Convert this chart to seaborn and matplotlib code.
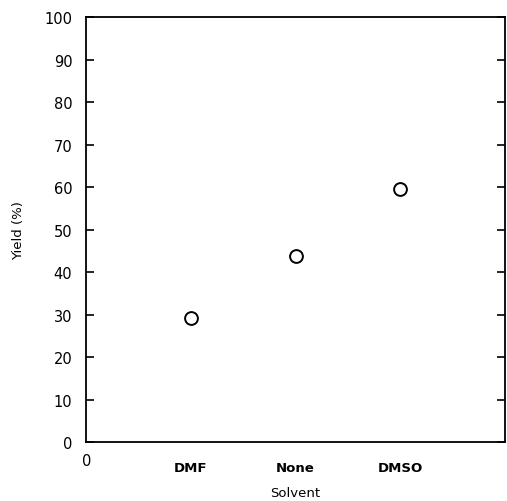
import matplotlib
matplotlib.use("Agg")
import matplotlib.pyplot as plt
import seaborn as sns
import pandas as pd

# Daten
solvents = ["DMF", "None", "DMSO"]
yields = [29.2, 43.8, 59.5]
y_ticks = [0, 10, 20, 30, 40, 50, 60, 70, 80, 90, 100]

df = pd.DataFrame({"Solvent": solvents, "Yield": yields})
df["pos"] = range(1, len(solvents) + 1)

sns.set_style("ticks")
plt.rcParams["font.family"] = ["DejaVu Sans"]
plt.rcParams["text.color"] = "black"
plt.rcParams["axes.labelcolor"] = "black"
plt.rcParams["xtick.color"] = "black"
plt.rcParams["ytick.color"] = "black"
plt.rcParams["axes.edgecolor"] = "black"

fig = plt.figure(figsize=(5.07, 5.02), dpi=100)
ax = fig.add_axes([0.170, 0.1175, 0.826, 0.8465])

sns.scatterplot(data=df, x="pos", y="Yield", ax=ax, marker="o", s=85,
                facecolor="white", edgecolor="black", linewidth=1.4, zorder=3)

ax.set_xlim(0, 4)
ax.set_ylim(0, 100)
ax.set_yticks(y_ticks)
ax.set_yticklabels([str(t) for t in y_ticks], fontsize=10.5)
ax.set_xticks(range(0, len(solvents) + 1))
ax.set_xticklabels(["0"] + solvents, fontsize=9.5)
for lbl in ax.get_xticklabels()[1:]:
    lbl.set_fontweight("bold")
ax.tick_params(axis="y", direction="in", length=6, width=1.2, right=True, pad=10,
               colors="black")
ax.tick_params(axis="x", length=0, pad=14, colors="black")

# "0" unter dem Ursprung etwas höher als die Kategorien
ax.annotate("0", xy=(0, 0), xytext=(0, -8), textcoords="offset points",
            ha="center", va="top", fontsize=10.5)
ax.get_xticklabels()[0].set_visible(False)

for side in ["left", "right", "top", "bottom"]:
    ax.spines[side].set_visible(True)
    ax.spines[side].set_linewidth(1.3)
    ax.spines[side].set_color("black")

ax.set_xlabel("Solvent", fontsize=9.5, labelpad=8)
ax.set_ylabel("Yield (%)", fontsize=9.5, labelpad=14)

fig.savefig("out.png", dpi=100)
